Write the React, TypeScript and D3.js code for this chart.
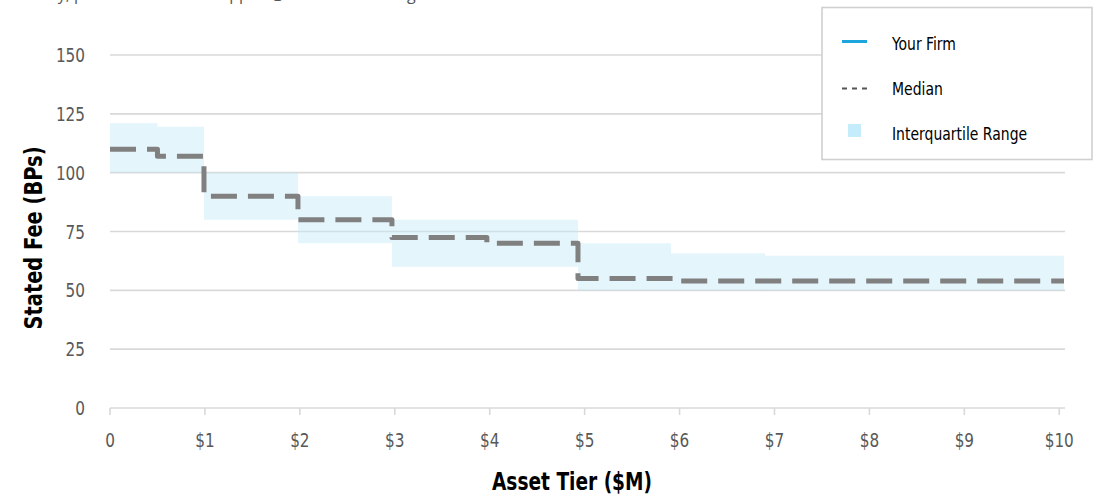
import React from "react";
import * as d3 from "d3";

// ---- data ----
const xTicks = [0, 1, 2, 3, 4, 5, 6, 7, 8, 9, 10];
const xTickLabels = ["0", "$1", "$2", "$3", "$4", "$5", "$6", "$7", "$8", "$9", "$10"];
const yTicks = [0, 25, 50, 75, 100, 125, 150];

// step breakpoints of the median line (asset tier in $M) and values (BPs)
const medianX = [0, 0.5, 0.99, 1.98, 2.97, 3.97, 4.93, 5.93, 10.05];
const medianY = [110, 107, 90, 80, 72.5, 70, 55, 54, 54];

// interquartile range bands: start, end, low, high
const iqrStart = [0, 0.5, 0.99, 1.98, 2.97, 4.93, 5.91, 6.9];
const iqrEnd = [0.5, 0.99, 1.98, 2.97, 4.93, 5.91, 6.9, 10.05];
const iqrLow = [100, 100, 80, 70, 60, 50, 50, 50];
const iqrHigh = [121, 119.5, 100, 90, 80, 70, 65.7, 64.7];

const legendItems = ["Your Firm", "Median", "Interquartile Range"];

const FONT = "'Liberation Sans Narrow', 'DejaVu Sans Condensed', 'DejaVu Sans', sans-serif";
const SX = 0.87;

export default function App() {
  const W = 1097;
  const H = 499;
  const x = d3.scaleLinear().domain([0, 10.05]).range([110, 1064]);
  const y = d3.scaleLinear().domain([0, 150]).range([408, 55]);

  const medianPts: [number, number][] = medianX.map((v, i) => [v, medianY[i]]);
  const line = d3
    .line<[number, number]>()
    .x((d) => x(d[0]))
    .y((d) => y(d[1]))
    .curve(d3.curveStepAfter);

  return (
    <div style={{ position: "fixed", left: 0, top: 0 }}>
      <svg width={W} height={H} style={{ display: "block", fontFamily: FONT, fontStretch: "condensed" }}>
        <rect width={W} height={H} fill="#ffffff" />
        <text
          x={52}
          y={-0.5}
          fontSize={16}
          fill="#555"
          style={{ fontFamily: "'Open Sans', sans-serif", fontStretch: "normal" }}
        >
          ty, please email us at support@feebenchmarking.com
        </text>

        {/* gridlines */}
        {yTicks.map((t) => (
          <line key={t} x1={110} x2={1065} y1={y(t)} y2={y(t)} stroke="#d9d9d9" strokeWidth={1.6} />
        ))}

        {/* IQR bands */}
        {iqrStart.map((s, i) => (
          <rect
            key={i}
            x={x(s)}
            y={y(iqrHigh[i])}
            width={x(iqrEnd[i]) - x(s)}
            height={y(iqrLow[i]) - y(iqrHigh[i])}
            fill="#c4e9f7"
            fillOpacity={0.45}
          />
        ))}

        {/* x ticks */}
        {xTicks.map((t, i) => (
          <g key={t}>
            <line x1={x(t)} x2={x(t)} y1={408} y2={415} stroke="#d9d9d9" strokeWidth={1.6} />
            <text
              transform={`translate(${x(t)},447) scale(${SX},1)`}
              textAnchor="middle"
              fontSize={19.5}
              fill="#595959"
            >
              {xTickLabels[i]}
            </text>
          </g>
        ))}

        {/* y tick labels */}
        {yTicks.map((t) => (
          <text
            key={t}
            transform={`translate(85,${y(t) + 7}) scale(${SX},1)`}
            textAnchor="end"
            fontSize={19.5}
            fill="#595959"
          >
            {t}
          </text>
        ))}

        {/* median */}
        <path
          d={line(medianPts) || ""}
          fill="none"
          stroke="#808080"
          strokeWidth={5}
          strokeDasharray="26 11"
          strokeLinejoin="round"
        />

        {/* axis titles */}
        <text
          transform={`translate(572,490) scale(0.86,1)`}
          textAnchor="middle"
          fontSize={24}
          fontWeight="bold"
          fill="#000"
        >
          Asset Tier ($M)
        </text>
        <text
          transform={`translate(42, 238) rotate(-90) scale(0.9,1)`}
          textAnchor="middle"
          fontSize={24}
          fontWeight="bold"
          fill="#000"
        >
          Stated Fee (BPs)
        </text>

        {/* legend */}
        <rect x={822} y={7.5} width={270} height={152} fill="#fff" stroke="#d0d0d0" strokeWidth={1.6} />
        <line x1={842} x2={867} y1={41.5} y2={41.5} stroke="#1ca6dd" strokeWidth={3} />
        <line x1={842} x2={869} y1={88.5} y2={88.5} stroke="#555" strokeWidth={2} strokeDasharray="5 5" />
        <rect x={848} y={124} width={13} height={13} fill="#c4ecfa" />
        {legendItems.map((t, i) => (
          <text
            key={t}
            transform={`translate(892,${49.5 + i * 45}) scale(0.84,1)`}
            fontSize={18.5}
            fill="#000"
          >
            {t}
          </text>
        ))}
      </svg>
    </div>
  );
}
